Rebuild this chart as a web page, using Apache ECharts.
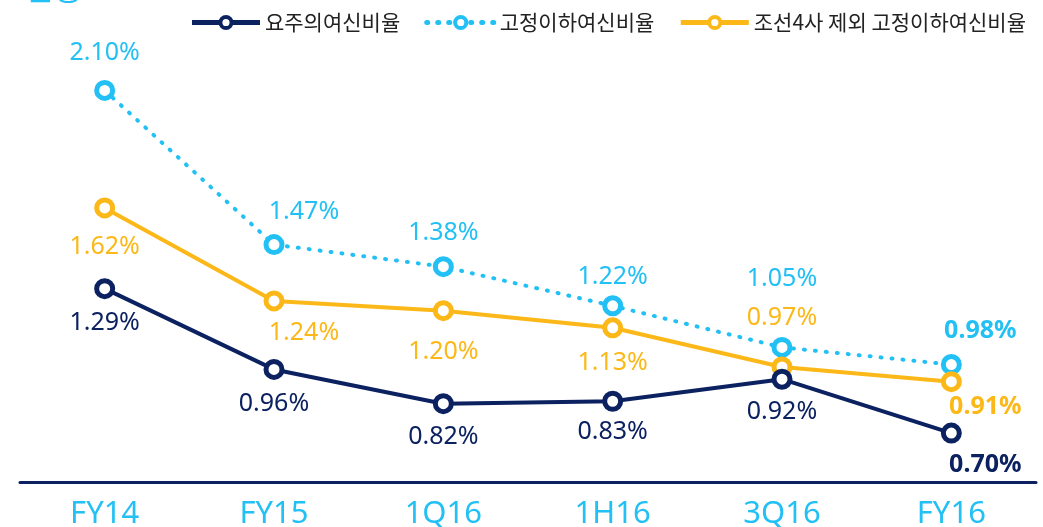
<!DOCTYPE html>
<html>
<head>
<meta charset="utf-8">
<script src="https://cdn.jsdelivr.net/npm/echarts@6/dist/echarts.min.js"></script>
<style>
  html, body { margin: 0; padding: 0; background: #fff; }
  #chart { width: 1043px; height: 527px; }
</style>
</head>
<body>
<div id="chart"></div>
<script>
const categories = ['FY14', 'FY15', '1Q16', '1H16', '3Q16', 'FY16']
const watchList = [1.29, 0.96, 0.82, 0.83, 0.92, 0.70]
const substandard = [2.10, 1.47, 1.38, 1.22, 1.05, 0.98]
const exShipbuilders = [1.62, 1.24, 1.20, 1.13, 0.97, 0.91]

// label offsets per point [dx, dy] relative to the marker centre
const watchOffsets = [[0, 34], [0, 34], [0, 33], [0, 31], [0, 33], [34, 32]]
const subOffsets = [[0, -38], [30, -33], [0, -34], [0, -29], [0, -69], [29, -34]]
const exOffsets = [[0, 39], [30, 32], [0, 41], [0, 35], [0, -49], [34, 25]]

const NAVY = '#0b2160'
const CYAN = '#22c0f4'
const YELLOW = '#fbb818'
const FONT = '"Noto Sans", "Noto Sans CJK KR", sans-serif'

function withLabels(values, offsets, color) {
  return values.map((v, i) => ({
    value: v,
    label: {
      show: true,
      position: 'inside',
      offset: offsets[i],
      color: color,
      fontSize: 25,
      fontFamily: FONT,
      fontWeight: i === values.length - 1 ? 'bold' : 'normal',
      formatter: (p) => p.value.toFixed(2) + '%'
    }
  }))
}

function marker(color) {
  return { color: '#fff', borderColor: color, borderWidth: 5 }
}

const chart = echarts.init(document.getElementById('chart'))
chart.setOption({
  animation: false,
  graphic: [{
    type: 'text',
    left: 24,
    top: -28,
    style: { text: '현황', fill: CYAN, font: '32px "Noto Sans CJK KR"' }
  }],
  legend: {
    top: 7,
    right: 12,
    itemWidth: 68,
    itemHeight: 14,
    itemGap: 24,
    lineStyle: { width: 5 },
    itemStyle: { borderWidth: 4 },
    textStyle: { fontSize: 21, color: '#222', fontFamily: '"Noto Sans CJK KR", sans-serif' },
    data: ['요주의여신비율', '고정이하여신비율', '조선4사 제외 고정이하여신비율']
  },
  grid: { left: 20, right: 7, top: 17, bottom: 45, outerBoundsMode: 'none' },
  xAxis: {
    type: 'category',
    data: categories,
    axisLine: { lineStyle: { color: NAVY, width: 3 } },
    axisTick: { alignWithLabel: true, length: 6, lineStyle: { color: NAVY, width: 2 } },
    axisLabel: { color: CYAN, fontSize: 31, margin: 17, fontFamily: FONT }
  },
  yAxis: {
    type: 'value',
    min: 0.5,
    max: 2.4,
    show: false,
    splitLine: { show: false }
  },
  series: [
    {
      name: '요주의여신비율',
      type: 'line',
      data: withLabels(watchList, watchOffsets, NAVY),
      symbol: 'circle',
      symbolSize: 16,
      z: 3,
      lineStyle: { color: NAVY, width: 4 },
      itemStyle: marker(NAVY)
    },
    {
      name: '고정이하여신비율',
      type: 'line',
      data: withLabels(substandard, subOffsets, CYAN),
      symbol: 'circle',
      symbolSize: 16,
      z: 2,
      lineStyle: { color: CYAN, width: 4, type: [1, 10], cap: 'round' },
      itemStyle: marker(CYAN)
    },
    {
      name: '조선4사 제외 고정이하여신비율',
      type: 'line',
      data: withLabels(exShipbuilders, exOffsets, YELLOW),
      symbol: 'circle',
      symbolSize: 16,
      z: 2,
      lineStyle: { color: YELLOW, width: 4 },
      itemStyle: marker(YELLOW)
    }
  ]
})
</script>
</body>
</html>
